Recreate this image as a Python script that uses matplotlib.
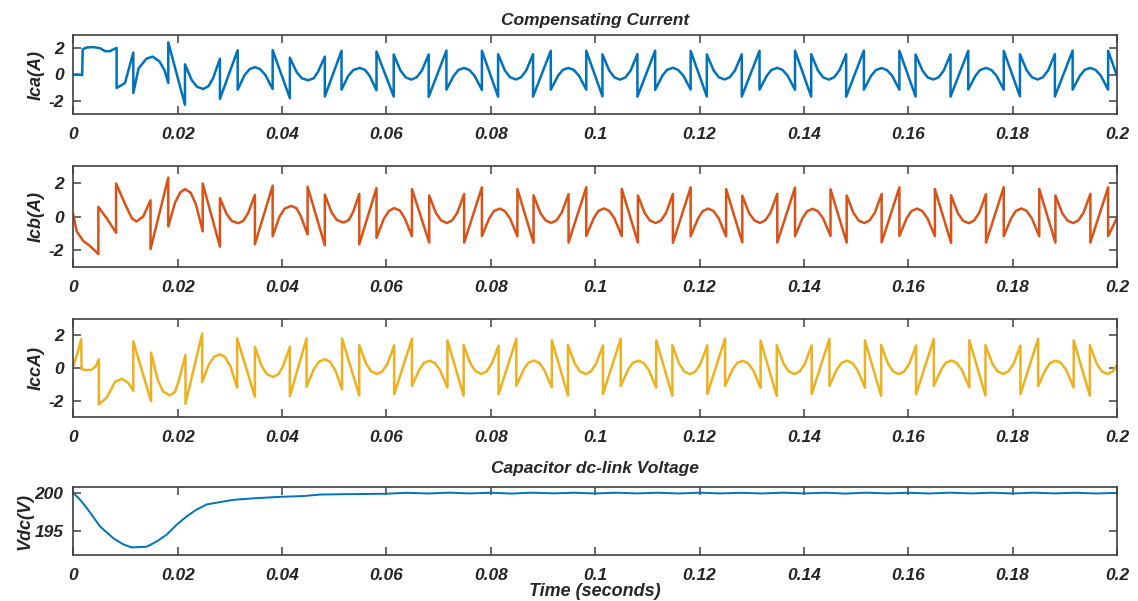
import numpy as np
import matplotlib.pyplot as plt

plt.rcParams['font.family'] = ['Liberation Sans', 'DejaVu Sans']
plt.rcParams['font.weight'] = 'bold'
plt.rcParams['font.style'] = 'italic'
plt.rcParams['axes.titleweight'] = 'bold'
plt.rcParams['axes.labelweight'] = 'bold'
plt.rcParams['axes.unicode_minus'] = False

# x axis (seconds)
x_ticks = [0, 0.02, 0.04, 0.06, 0.08, 0.1, 0.12, 0.14, 0.16, 0.18, 0.2]
x_tick_labels = ['0', '0.02', '0.04', '0.06', '0.08', '0.1', '0.12', '0.14', '0.16', '0.18', '0.2']

# Phase a compensating current: start-up transient, then one row per mains period
ica_t = [0.0, 0.0010, 0.0017, 0.0018, 0.0026, 0.0038, 0.0051, 0.0061, 0.0070, 0.0083,
         0.0083, 0.0099, 0.0115,
         0.0115, 0.0125, 0.0140, 0.0152, 0.0165, 0.0175, 0.0182,
         0.0182, 0.0214,
         0.0214, 0.0227, 0.0237, 0.0249, 0.0259, 0.0268, 0.0281,
         0.0281, 0.0315,
         0.0315, 0.0328, 0.0338, 0.0348, 0.0358, 0.0368, 0.0382,
         0.0382, 0.0415,
         0.0415, 0.0428, 0.0438, 0.0450, 0.0461, 0.0469, 0.0482,
         0.0482, 0.0514,
         0.0514, 0.0527, 0.0537, 0.0549, 0.0559, 0.0568, 0.0581,
         0.0581,
         0.0614, 0.0614, 0.0627, 0.0637, 0.0648, 0.0658, 0.0668, 0.0681, 0.0681, 0.0715, 0.0715, 0.0729, 0.0738, 0.0749, 0.0759, 0.0769, 0.0783, 0.0783,
         0.0814, 0.0814, 0.0827, 0.0837, 0.0848, 0.0858, 0.0868, 0.0881, 0.0881, 0.0915, 0.0915, 0.0929, 0.0938, 0.0949, 0.0959, 0.0969, 0.0983, 0.0983,
         0.1014, 0.1014, 0.1027, 0.1037, 0.1048, 0.1058, 0.1068, 0.1081, 0.1081, 0.1115, 0.1115, 0.1129, 0.1138, 0.1149, 0.1159, 0.1169, 0.1183, 0.1183,
         0.1214, 0.1214, 0.1227, 0.1237, 0.1248, 0.1258, 0.1268, 0.1281, 0.1281, 0.1315, 0.1315, 0.1329, 0.1338, 0.1349, 0.1359, 0.1369, 0.1383, 0.1383,
         0.1414, 0.1414, 0.1427, 0.1437, 0.1448, 0.1458, 0.1468, 0.1481, 0.1481, 0.1515, 0.1515, 0.1529, 0.1538, 0.1549, 0.1559, 0.1569, 0.1583, 0.1583,
         0.1614, 0.1614, 0.1627, 0.1637, 0.1648, 0.1658, 0.1668, 0.1681, 0.1681, 0.1715, 0.1715, 0.1729, 0.1738, 0.1749, 0.1759, 0.1769, 0.1783, 0.1783,
         0.1814, 0.1814, 0.1827, 0.1837, 0.1848, 0.1858, 0.1868, 0.1881, 0.1881, 0.1915, 0.1915, 0.1929, 0.1938, 0.1949, 0.1959, 0.1969, 0.1983, 0.1983,
         0.2]
ica_v = [0.0, 0.0, -0.05, 1.92, 2.05, 2.08, 2.0, 1.77, 1.77, 2.02,
         -1.03, -0.65, 1.67,
         -1.41, 0.45, 1.2, 1.36, 1.0, 0.3, -0.64,
         2.44, -2.3,
         0.77, -0.43, -0.93, -1.1, -0.89, -0.27, 1.2,
         -1.85, 1.85,
         -1.15, -0.06, 0.41, 0.56, 0.41, -0.04, -1.1,
         1.85, -1.8,
         1.28, 0.18, -0.29, -0.44, -0.28, 0.21, 1.36,
         -1.67, 1.8,
         -1.15, -0.09, 0.35, 0.5, 0.35, -0.11, -1.2,
         1.74,
         -1.67, 1.52, 0.30, -0.22, -0.39, -0.21, 0.30, 1.52, -1.70, 1.82, -1.15, -0.10, 0.35, 0.50, 0.34, -0.10, -1.17, 1.80,
         -1.68, 1.54, 0.31, -0.21, -0.38, -0.21, 0.31, 1.54, -1.67, 1.80, -1.15, -0.09, 0.35, 0.50, 0.35, -0.09, -1.15, 1.80,
         -1.66, 1.53, 0.30, -0.22, -0.39, -0.22, 0.30, 1.55, -1.68, 1.81, -1.16, -0.08, 0.36, 0.51, 0.35, -0.09, -1.14, 1.79,
         -1.67, 1.53, 0.31, -0.21, -0.38, -0.21, 0.31, 1.53, -1.67, 1.80, -1.15, -0.09, 0.35, 0.50, 0.35, -0.10, -1.16, 1.81,
         -1.68, 1.54, 0.30, -0.22, -0.39, -0.21, 0.31, 1.54, -1.69, 1.82, -1.15, -0.09, 0.34, 0.49, 0.34, -0.09, -1.15, 1.80,
         -1.67, 1.52, 0.31, -0.21, -0.38, -0.22, 0.30, 1.53, -1.68, 1.80, -1.14, -0.08, 0.35, 0.50, 0.35, -0.09, -1.15, 1.79,
         -1.66, 1.54, 0.31, -0.21, -0.38, -0.21, 0.31, 1.54, -1.67, 1.81, -1.15, -0.09, 0.35, 0.50, 0.35, -0.09, -1.15, 1.80,
         -0.10]

# Phase b
icb_t = [0.0, 0.00065, 0.0019, 0.0032, 0.0048,
         0.0048, 0.0065, 0.0082,
         0.0082, 0.0099, 0.0112, 0.0121, 0.0134, 0.0148,
         0.0148, 0.0182,
         0.0182, 0.0195, 0.0205, 0.0214, 0.0225, 0.0235, 0.0248,
         0.0248, 0.0281,
         0.0281, 0.0294, 0.0304, 0.0316, 0.0326, 0.0335, 0.0348,
         0.0348, 0.0382,
         0.0382, 0.0395, 0.0405, 0.0418, 0.0428, 0.0436, 0.0449,
         0.0449, 0.0482,
         0.0482, 0.0495, 0.0505, 0.0518, 0.0528, 0.0536, 0.0548,
         0.0548, 0.0581,
         0.0581, 0.0595, 0.0605, 0.0615, 0.0626, 0.0635, 0.0649,
         0.0649,
         0.0682, 0.0682, 0.0695, 0.0705, 0.0716, 0.0726, 0.0736, 0.0749, 0.0749, 0.0783, 0.0783, 0.0797, 0.0806, 0.0817, 0.0827, 0.0837, 0.0851, 0.0851,
         0.0882, 0.0882, 0.0895, 0.0905, 0.0916, 0.0926, 0.0936, 0.0949, 0.0949, 0.0983, 0.0983, 0.0997, 0.1006, 0.1017, 0.1027, 0.1037, 0.1051, 0.1051,
         0.1082, 0.1082, 0.1095, 0.1105, 0.1116, 0.1126, 0.1136, 0.1149, 0.1149, 0.1183, 0.1183, 0.1197, 0.1206, 0.1217, 0.1227, 0.1237, 0.1251, 0.1251,
         0.1282, 0.1282, 0.1295, 0.1305, 0.1316, 0.1326, 0.1336, 0.1349, 0.1349, 0.1383, 0.1383, 0.1397, 0.1406, 0.1417, 0.1427, 0.1437, 0.1451, 0.1451,
         0.1482, 0.1482, 0.1495, 0.1505, 0.1516, 0.1526, 0.1536, 0.1549, 0.1549, 0.1583, 0.1583, 0.1597, 0.1606, 0.1617, 0.1627, 0.1637, 0.1651, 0.1651,
         0.1682, 0.1682, 0.1695, 0.1705, 0.1716, 0.1726, 0.1736, 0.1749, 0.1749, 0.1783, 0.1783, 0.1797, 0.1806, 0.1817, 0.1827, 0.1837, 0.1851, 0.1851,
         0.1882, 0.1882, 0.1895, 0.1905, 0.1916, 0.1926, 0.1936, 0.1949, 0.1949, 0.1983, 0.1983,
         0.2]
icb_v = [0.1, -0.88, -1.45, -1.75, -2.23,
         0.57, -0.15, -0.97,
         1.96, 0.76, -0.1, -0.3, 0.0, 0.96,
         -1.94, 2.31,
         -0.59, 0.83, 1.43, 1.63, 1.41, 0.73, -0.88,
         1.96, -1.79,
         1.09, 0.14, -0.27, -0.4, -0.25, 0.2, 1.28,
         -1.65, 1.83,
         -1.17, -0.02, 0.47, 0.63, 0.48, 0.02, -1.07,
         1.77, -1.71,
         1.3, 0.24, -0.21, -0.36, -0.21, 0.25, 1.34,
         -1.65, 1.69,
         -1.27, -0.14, 0.34, 0.5, 0.35, -0.1, -1.17,
         1.63,
         -1.55, 1.25, 0.20, -0.24, -0.39, -0.23, 0.23, 1.34, -1.55, 1.73, -1.17, -0.12, 0.32, 0.47, 0.32, -0.12, -1.17, 1.63,
         -1.56, 1.26, 0.21, -0.23, -0.38, -0.23, 0.23, 1.33, -1.55, 1.74, -1.16, -0.12, 0.33, 0.48, 0.33, -0.11, -1.17, 1.64,
         -1.55, 1.25, 0.20, -0.24, -0.39, -0.24, 0.22, 1.34, -1.56, 1.73, -1.17, -0.13, 0.32, 0.47, 0.32, -0.12, -1.18, 1.63,
         -1.54, 1.24, 0.20, -0.23, -0.38, -0.23, 0.23, 1.35, -1.55, 1.72, -1.17, -0.12, 0.31, 0.46, 0.31, -0.12, -1.16, 1.62,
         -1.55, 1.25, 0.21, -0.24, -0.39, -0.23, 0.23, 1.34, -1.54, 1.73, -1.16, -0.11, 0.32, 0.47, 0.32, -0.12, -1.17, 1.63,
         -1.56, 1.26, 0.20, -0.25, -0.40, -0.24, 0.22, 1.33, -1.55, 1.74, -1.17, -0.12, 0.33, 0.48, 0.33, -0.12, -1.17, 1.64,
         -1.55, 1.25, 0.20, -0.24, -0.39, -0.23, 0.23, 1.34, -1.55, 1.73, -1.17,
         -0.08]

# Phase c
icc_t = [0.0, 0.0008, 0.0015, 0.0016, 0.0025, 0.0035, 0.0043, 0.0049,
         0.0049, 0.0064, 0.0080, 0.0093, 0.0105, 0.0115,
         0.0115, 0.0149,
         0.0149, 0.0162, 0.0172, 0.0185, 0.0195, 0.0202, 0.0215,
         0.0215, 0.0247,
         0.0247, 0.0260, 0.0270, 0.0281, 0.0291, 0.0301, 0.0314,
         0.0314, 0.0348,
         0.0348, 0.0361, 0.0371, 0.0383, 0.0393, 0.0402, 0.0415,
         0.0415, 0.0447,
         0.0447, 0.0461, 0.0471, 0.0482, 0.0492, 0.0502, 0.0515,
         0.0515,
         0.0548, 0.0548, 0.0561, 0.0571, 0.0582, 0.0592, 0.0602, 0.0615, 0.0615, 0.0649, 0.0649, 0.0663, 0.0672, 0.0683, 0.0693, 0.0703, 0.0717, 0.0717,
         0.0748, 0.0748, 0.0761, 0.0771, 0.0782, 0.0792, 0.0802, 0.0815, 0.0815, 0.0849, 0.0849, 0.0863, 0.0872, 0.0883, 0.0893, 0.0903, 0.0917, 0.0917,
         0.0948, 0.0948, 0.0961, 0.0971, 0.0982, 0.0992, 0.1002, 0.1015, 0.1015, 0.1049, 0.1049, 0.1063, 0.1072, 0.1083, 0.1093, 0.1103, 0.1117, 0.1117,
         0.1148, 0.1148, 0.1161, 0.1171, 0.1182, 0.1192, 0.1202, 0.1215, 0.1215, 0.1249, 0.1249, 0.1263, 0.1272, 0.1283, 0.1293, 0.1303, 0.1317, 0.1317,
         0.1348, 0.1348, 0.1361, 0.1371, 0.1382, 0.1392, 0.1402, 0.1415, 0.1415, 0.1449, 0.1449, 0.1463, 0.1472, 0.1483, 0.1493, 0.1503, 0.1517, 0.1517,
         0.1548, 0.1548, 0.1561, 0.1571, 0.1582, 0.1592, 0.1602, 0.1615, 0.1615, 0.1649, 0.1649, 0.1663, 0.1672, 0.1683, 0.1693, 0.1703, 0.1717, 0.1717,
         0.1748, 0.1748, 0.1761, 0.1771, 0.1782, 0.1792, 0.1802, 0.1815, 0.1815, 0.1849, 0.1849, 0.1863, 0.1872, 0.1883, 0.1893, 0.1903, 0.1917, 0.1917,
         0.1948, 0.1948, 0.1961, 0.1971, 0.1982, 0.1992,
         0.2]
icc_v = [0.12, 0.9, 1.77, -0.08, -0.12, -0.1, 0.1, 0.53,
         -2.23, -1.82, -0.85, -0.66, -0.9, -1.4,
         1.62, -2.03,
         0.94, -0.74, -1.44, -1.68, -1.46, -0.79, 0.8,
         -2.19, 2.11,
         -0.86, 0.23, 0.69, 0.84, 0.66, 0.11, -1.2,
         1.81, -1.76,
         1.29, 0.11, -0.38, -0.55, -0.38, 0.11, 1.29,
         -1.72, 1.81,
         -1.15, -0.07, 0.39, 0.54, 0.37, -0.13, -1.31,
         1.81,
         -1.68, 1.40, 0.27, -0.21, -0.37, -0.21, 0.26, 1.38, -1.60, 1.79, -1.10, -0.11, 0.31, 0.45, 0.30, -0.14, -1.20, 1.69,
         -1.70, 1.41, 0.27, -0.20, -0.36, -0.21, 0.26, 1.37, -1.61, 1.78, -1.10, -0.10, 0.32, 0.46, 0.31, -0.14, -1.19, 1.70,
         -1.69, 1.40, 0.26, -0.21, -0.37, -0.21, 0.27, 1.38, -1.60, 1.79, -1.11, -0.11, 0.31, 0.45, 0.30, -0.13, -1.20, 1.69,
         -1.70, 1.39, 0.27, -0.22, -0.38, -0.22, 0.26, 1.38, -1.59, 1.80, -1.10, -0.11, 0.30, 0.44, 0.29, -0.14, -1.21, 1.68,
         -1.71, 1.40, 0.27, -0.21, -0.37, -0.21, 0.26, 1.39, -1.60, 1.79, -1.09, -0.10, 0.31, 0.45, 0.30, -0.14, -1.20, 1.69,
         -1.70, 1.41, 0.28, -0.21, -0.37, -0.22, 0.25, 1.38, -1.61, 1.78, -1.10, -0.11, 0.32, 0.46, 0.31, -0.13, -1.19, 1.70,
         -1.69, 1.40, 0.27, -0.20, -0.36, -0.21, 0.26, 1.37, -1.60, 1.79, -1.10, -0.11, 0.31, 0.45, 0.30, -0.14, -1.20, 1.69,
         -1.70, 1.40, 0.27, -0.21, -0.37, -0.21,
         0.20]

# DC-link capacitor voltage
vdc_t = [0.0, 0.0012, 0.0026, 0.0051, 0.0077, 0.0096, 0.0112, 0.0141, 0.0160, 0.0179,
         0.0198, 0.0217, 0.0236, 0.0256, 0.0281, 0.0307, 0.0345, 0.0396, 0.0440, 0.0473,
         0.0520, 0.0594,
         0.064, 0.068, 0.072, 0.076, 0.080, 0.084, 0.088, 0.092, 0.096, 0.100,
         0.104, 0.108, 0.112, 0.116, 0.120, 0.124, 0.128, 0.132, 0.136, 0.140,
         0.144, 0.148, 0.152, 0.156, 0.160, 0.164, 0.168, 0.172, 0.176, 0.180,
         0.184, 0.188, 0.192, 0.196, 0.200]
vdc_v = [200.0, 199.2, 198.0, 195.6, 194.0, 193.2, 192.8, 192.9, 193.6, 194.5,
         195.8, 196.9, 197.8, 198.5, 198.8, 199.1, 199.3, 199.5, 199.6, 199.8,
         199.85, 199.9,
         200.03, 199.94, 200.05, 199.95, 200.04, 199.93, 200.05, 199.96, 200.04, 199.94,
         200.05, 199.95, 200.04, 199.94, 200.05, 199.95, 200.03, 199.94, 200.05, 199.95,
         200.04, 199.93, 200.05, 199.95, 200.04, 199.94, 200.05, 199.95, 200.04, 199.94,
         200.05, 199.95, 200.04, 199.94, 200.02]

W, H = 1138, 601
fig = plt.figure(figsize=(W / 100, H / 100), dpi=100)

def px_axes(top, bottom, left=73.3, right=1117):
    # axes box given in pixel coordinates of the reference
    return fig.add_axes([left / W, 1 - bottom / H, (right - left) / W, (bottom - top) / H])

panels = [
    (35, 114, ica_t, ica_v, '#0072BD', 'Ica(A)', (-3, 3), [-2, 0, 2], -0.027, 1.8),
    (166, 267, icb_t, icb_v, '#D95319', 'Icb(A)', (-3, 3), [-2, 0, 2], -0.027, 1.8),
    (319, 417, icc_t, icc_v, '#EDB120', 'IccA)', (-3, 3), [-2, 0, 2], -0.027, 1.8),
    (487, 555, vdc_t, vdc_v, '#0072BD', 'Vdc(V)', (191.8, 200.8), [195, 200], -0.038, 1.4),
]

axes = []
for top, bottom, t, v, color, ylab, ylim, yticks, lab_x, lw in panels:
    ax = px_axes(top, bottom)
    ax.plot(t, v, color=color, linewidth=lw)
    ax.set_xlim(0, 0.2)
    ax.set_ylim(*ylim)
    ax.set_xticks(x_ticks)
    ax.set_xticklabels(x_tick_labels)
    ax.set_yticks(yticks)
    ax.tick_params(direction='in', top=True, right=True, length=6, width=1.1,
                   color='#404040', labelcolor='#262626', labelsize=12.5, pad=7)
    ax.tick_params(axis='x', pad=9)
    for s in ax.spines.values():
        s.set_color('#404040')
        s.set_linewidth(1.2)
    ax.set_ylabel(ylab, fontsize=13, color='#262626')
    ax.yaxis.set_label_coords(lab_x, 0.5)
    axes.append(ax)

axes[0].set_title('Compensating Current', fontsize=12.5, color='#262626', pad=7)
axes[3].set_title('Capacitor dc-link Voltage', fontsize=12.5, color='#262626', pad=10)
fig.text(595 / W, 1 - 591 / H, 'Time (seconds)', ha='center', va='center',
         fontsize=13, color='#262626')

fig.savefig('out.png', dpi=100)
